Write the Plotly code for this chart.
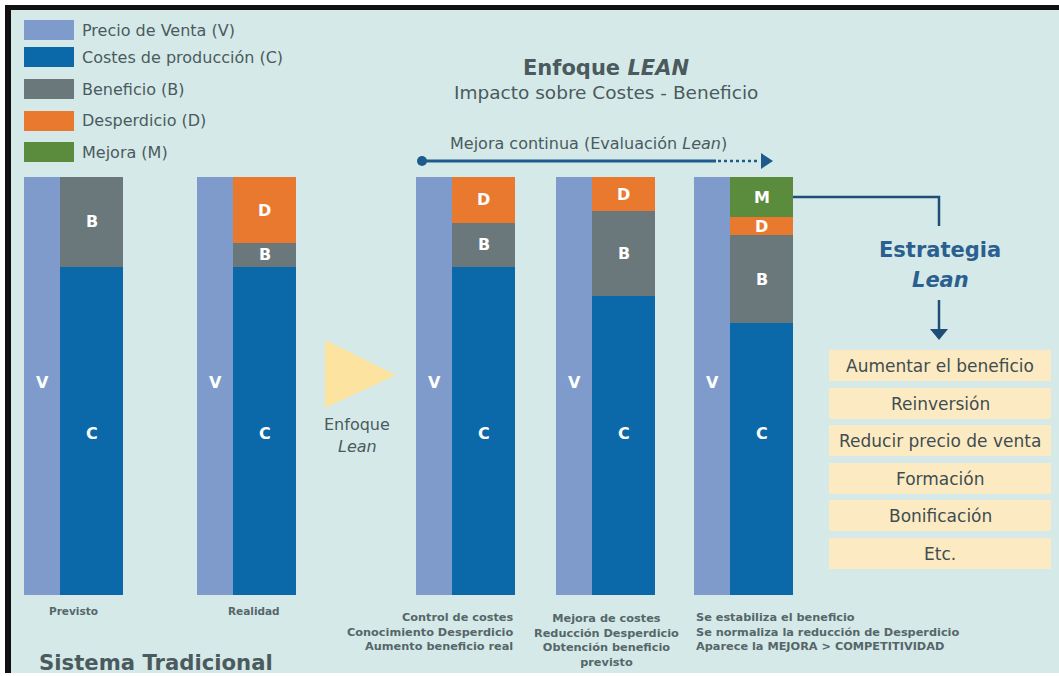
import plotly.graph_objects as go

W, H = 1059, 676
FONT = "DejaVu Sans"
TXT = "#4b5a5e"

# ---- data ----
scenarios = ["Previsto", "Realidad", "Control", "Mejora", "Estabiliza"]
precio_venta = [100, 100, 100, 100, 100]
costes = [78.5, 78.5, 78.5, 71.5, 65.0]
beneficio = [21.5, 5.7, 10.5, 20.3, 21.1]
desperdicio = [0, 15.8, 11.0, 8.2, 4.3]
mejora = [0, 0, 0, 0, 9.6]

legend_labels = ["Precio de Venta (V)", "Costes de producción (C)", "Beneficio (B)",
                 "Desperdicio (D)", "Mejora (M)"]
estrategias = ["Aumentar el beneficio", "Reinversión", "Reducir precio de venta",
               "Formación", "Bonificación", "Etc."]

# ---- styling / layout ----
COL = dict(V="#7e9bcb", C="#0b69a9", B="#6a787c", D="#e9792f", M="#5b8b3d")
BG = "#d5eae8"
v_left = [24, 197, 416, 556, 694]
v_w = 36
c_w = 63
PX_ZERO = 595
SCALE = 4.18  # px per unit

def py(p):
    return 1 - p / H

fig = go.Figure()

vx = [l + v_w / 2 for l in v_left]
cx = [l + v_w + c_w / 2 for l in v_left]

fig.add_trace(go.Bar(x=vx, y=precio_venta, base=[0] * 5, width=v_w,
                     marker=dict(color=COL["V"], line=dict(width=0)), name="V"))
fig.add_trace(go.Bar(x=cx, y=costes, base=[0] * 5, width=c_w,
                     marker=dict(color=COL["C"], line=dict(width=0)), name="C"))
base_b = costes
fig.add_trace(go.Bar(x=cx, y=beneficio, base=base_b, width=c_w,
                     marker=dict(color=COL["B"], line=dict(width=0)), name="B"))
base_d = [c + b for c, b in zip(costes, beneficio)]
fig.add_trace(go.Bar(x=cx, y=desperdicio, base=base_d, width=c_w,
                     marker=dict(color=COL["D"], line=dict(width=0)), name="D"))
base_m = [c + b + d for c, b, d in zip(costes, beneficio, desperdicio)]
fig.add_trace(go.Bar(x=cx, y=mejora, base=base_m, width=c_w,
                     marker=dict(color=COL["M"], line=dict(width=0)), name="M"))

ann = []
def text(x, y, t, size=14, color=TXT, weight=None, xanchor="center", align="center", yref="paper"):
    f = dict(family=FONT, size=size, color=color)
    if weight:
        f["weight"] = weight
    ann.append(dict(x=x, y=y if yref != "paper" else py(y), xref="x", yref=yref, text=t,
                    showarrow=False, font=f, xanchor=xanchor, yanchor="middle", align=align))

# bar letters
for i in range(5):
    text(vx[i], 382, "V", 16, "white", 700)
    text(cx[i], 433, "C", 16, "white", 700)
    if beneficio[i] > 0:
        text(cx[i], base_b[i] + beneficio[i] / 2, "B", 16, "white", 700, yref="y")
    if desperdicio[i] > 0:
        text(cx[i], base_d[i] + desperdicio[i] / 2, "D", 16, "white", 700, yref="y")
    if mejora[i] > 0:
        text(cx[i], base_m[i] + mejora[i] / 2, "M", 16, "white", 700, yref="y")

shapes = []
# background and frame
shapes.append(dict(type="rect", xref="x", yref="paper", x0=5, x1=W, y0=py(673), y1=py(5),
                   fillcolor="#111111", line=dict(width=0), layer="below"))
shapes.append(dict(type="rect", xref="x", yref="paper", x0=11, x1=W, y0=py(673), y1=py(10),
                   fillcolor=BG, line=dict(width=0), layer="below"))

# legend
leg_y = [30, 57, 89, 121, 152]
leg_cols = [COL["V"], COL["C"], COL["B"], COL["D"], COL["M"]]
for yy, c, lab in zip(leg_y, leg_cols, legend_labels):
    shapes.append(dict(type="rect", xref="x", yref="paper", x0=24, x1=74, y0=py(yy + 10), y1=py(yy - 10),
                       fillcolor=c, line=dict(width=0)))
    text(80, yy, lab, 16, TXT, xanchor="left")

# titles
text(606, 68, "Enfoque <i>LEAN</i>", 21, TXT, 700)
text(606, 93, "Impacto sobre Costes - Beneficio", 18.5, TXT)
text(588, 143, "Mejora continua (Evaluación <i>Lean</i>)", 16, TXT)

# mejora continua arrow
ARROW = "#1c5b8c"
shapes.append(dict(type="line", xref="x", yref="paper", x0=422, x1=716, y0=py(161), y1=py(161),
                   line=dict(color=ARROW, width=3)))
shapes.append(dict(type="line", xref="x", yref="paper", x0=718, x1=760, y0=py(161), y1=py(161),
                   line=dict(color=ARROW, width=2.5, dash="dot")))
shapes.append(dict(type="circle", xref="x", yref="paper", x0=417, x1=427, y0=py(166), y1=py(156),
                   fillcolor=ARROW, line=dict(width=0)))
shapes.append(dict(type="path", xref="x", yref="paper",
                   path=f"M 761 {py(153)} L 773 {py(161)} L 761 {py(169)} Z",
                   fillcolor=ARROW, line=dict(width=0)))

# yellow triangle
shapes.append(dict(type="path", xref="x", yref="paper",
                   path=f"M 325 {py(340)} L 396 {py(375)} L 325 {py(408)} Z",
                   fillcolor="#fde3a0", line=dict(width=0)))
text(357, 424, "Enfoque", 16, TXT)
text(357, 446, "<i>Lean</i>", 16, TXT)

# bottom labels
LBL = "#56666a"
text(73, 611, "Previsto", 10.5, LBL, 700)
text(254, 611, "Realidad", 10.5, LBL, 700)
text(156, 662, "Sistema Tradicional", 21.2, TXT, 700)
text(516, 632, "Control de costes<br>Conocimiento Desperdicio<br>Aumento beneficio real", 11.3, LBL, 700,
     xanchor="right", align="right")
text(606, 640, "Mejora de costes<br>Reducción Desperdicio<br>Obtención beneficio<br>previsto", 11.3, LBL, 700)
text(694, 632, "Se estabiliza el beneficio<br>Se normaliza la reducción de Desperdicio<br>Aparece la MEJORA > COMPETITIVIDAD",
     11.3, LBL, 700, xanchor="left", align="left")

# estrategia connector
DARK = "#1e4e78"
shapes.append(dict(type="path", xref="x", yref="paper",
                   path=f"M 793 {py(197)} L 939 {py(197)} L 939 {py(226)}",
                   line=dict(color=DARK, width=2.5)))
text(940, 250, "<b>Estrategia</b>", 21, "#2b5f8f")
text(940, 280, "<b><i>Lean</i></b>", 21, "#2b5f8f")
shapes.append(dict(type="line", xref="x", yref="paper", x0=939, x1=939, y0=py(300), y1=py(331),
                   line=dict(color=DARK, width=2.5)))
shapes.append(dict(type="path", xref="x", yref="paper",
                   path=f"M 930 {py(329)} L 948 {py(329)} L 939 {py(340)} Z",
                   fillcolor=DARK, line=dict(width=0)))

# strategy boxes
box_top = [350, 388, 425, 463, 500, 538]
for t, lab in zip(box_top, estrategias):
    shapes.append(dict(type="rect", xref="x", yref="paper", x0=829, x1=1051, y0=py(t + 31), y1=py(t),
                       fillcolor="#fcebc2", line=dict(width=0), layer="below"))
    text(940, t + 16, lab, 17, "#3f4d51")

fig.update_layout(
    width=W, height=H, autosize=False,
    margin=dict(l=0, r=0, t=0, b=0),
    paper_bgcolor="white", plot_bgcolor="rgba(0,0,0,0)",
    barmode="overlay", bargap=0, showlegend=False,
    xaxis=dict(range=[0, W], visible=False, fixedrange=True),
    yaxis=dict(range=[-(H - PX_ZERO) / SCALE, PX_ZERO / SCALE], visible=False, fixedrange=True),
    shapes=shapes, annotations=ann,
)
fig.write_html("out.html")
